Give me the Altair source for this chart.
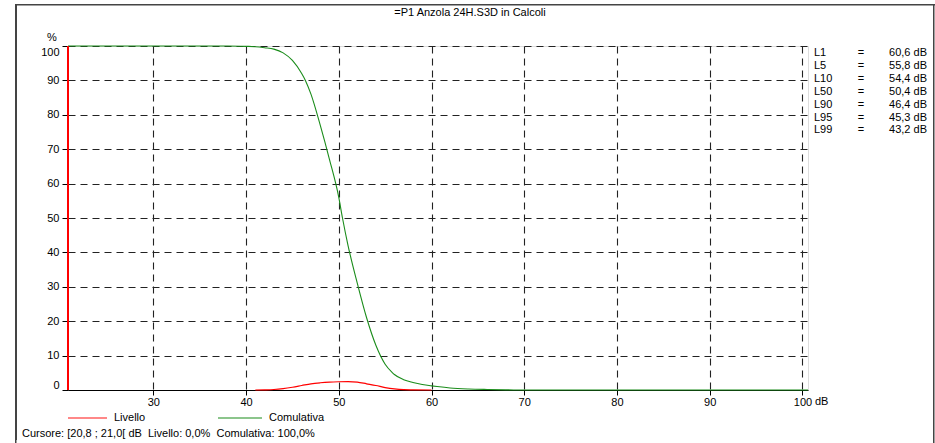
import altair as alt
import pandas as pd

# ---- data ----
title_text = "=P1 Anzola 24H.S3D in Calcoli"

cum_db = [20.8, 30, 38, 40, 41, 42, 43, 44, 45, 46, 46.4, 47, 48, 49, 50, 50.4, 51, 52, 53, 54,
          55, 55.8, 56, 57, 58, 59, 60, 60.6, 62, 64, 66, 68, 70, 100.6]
cum_pct = [100, 100, 100, 99.9, 99.8, 99.5, 99.1, 98, 95.8, 92, 90, 86, 77, 67, 56, 50, 42, 31, 21, 13,
           7.5, 5, 4.5, 3, 2.2, 1.6, 1.2, 1, 0.6, 0.3, 0.15, 0.05, 0, 0]

liv_db = [41, 42, 43, 44, 45, 46, 47, 48, 49, 50, 51, 52, 53, 54, 55, 56, 57, 58, 60]
liv_pct = [0, 0.05, 0.15, 0.4, 0.8, 1.3, 1.8, 2.1, 2.3, 2.4, 2.45, 2.3, 1.8, 1.3, 0.7, 0.3, 0.1, 0.05, 0]

stat_names = ["L1", "L5", "L10", "L50", "L90", "L95", "L99"]
stat_values = [60.6, 55.8, 54.4, 50.4, 46.4, 45.3, 43.2]

x_ticks = [30, 40, 50, 60, 70, 80, 90, 100]
y_ticks = [0, 10, 20, 30, 40, 50, 60, 70, 80, 90, 100]
x_domain = [20.8, 100.6]
y_domain = [0, 100]

cursor_lo, cursor_hi = 20.8, 21.0
cursor_liv, cursor_cum = 0.0, 100.0

legend_names = ["Livello", "Comulativa"]
RED = "#ff0000"
GREEN = "#1a8c1a"
FONT = "Liberation Sans"


def it(v, d=1):
    return f"{v:.{d}f}".replace(".", ",")


W, H = 740, 344

xs = alt.Scale(domain=x_domain, nice=False, zero=False)
ys = alt.Scale(domain=y_domain, nice=False)

cum_df = pd.DataFrame({"db": cum_db, "pct": cum_pct})
liv_df = pd.DataFrame({"db": liv_db, "pct": liv_pct})

x_axis = alt.Axis(values=x_ticks, grid=True, gridDash=[7, 5], gridColor="#222222", gridWidth=1.1,
                  tickSize=5, tickColor="#000000", labelPadding=1, domainColor="#000000",
                  labelFont=FONT, labelFontSize=11, labelColor="#000000", title=None,
                  labelOverlap=False)
y_axis = alt.Axis(values=y_ticks, grid=True, gridDash=[7, 5], gridColor="#222222", gridWidth=1.1,
                  tickSize=6, tickColor="#000000", labelPadding=3, labelFlush=True,
                  domain=False, labelFont=FONT, labelFontSize=11, labelColor="#000000", title=None,
                  labelOverlap=False)

X = alt.X("db:Q", scale=xs, axis=x_axis)
Y = alt.Y("pct:Q", scale=ys, axis=y_axis)

liv = alt.Chart(liv_df).mark_line(color=RED, strokeWidth=1.2, interpolate="monotone").encode(x=X, y=Y)
cum = alt.Chart(cum_df).mark_line(color=GREEN, strokeWidth=1.1, interpolate="monotone").encode(x=X, y=Y)

cursor = alt.Chart(pd.DataFrame({"db": [cursor_lo]})).mark_rule(color=RED, strokeWidth=2).encode(
    x=X, y=alt.value(0), y2=alt.value(H)
)


def txt(s, x, y, align="left", baseline="middle", **kw):
    return alt.Chart(pd.DataFrame({"t": [s]})).mark_text(
        align=align, baseline=baseline, font=FONT, fontSize=11, color="#000000", **kw
    ).encode(text="t:N", x=alt.value(x), y=alt.value(y))


def box(x1, x2, y1, y2, color):
    return alt.Chart(pd.DataFrame({"a": [0]})).mark_rect(color=color, opacity=1).encode(
        x=alt.value(x1), x2=alt.value(x2), y=alt.value(y1), y2=alt.value(y2))


def hrule(x1, x2, y, color, w):
    return alt.Chart(pd.DataFrame({"a": [0]})).mark_rule(color=color, strokeWidth=w).encode(
        x=alt.value(x1), x2=alt.value(x2), y=alt.value(y))


def vrule(x, y1, y2, color, w):
    return alt.Chart(pd.DataFrame({"a": [0]})).mark_rule(color=color, strokeWidth=w).encode(
        x=alt.value(x), y=alt.value(y1), y2=alt.value(y2))


FC = "#444444"
frame_top = box(15 - 68, 935 - 68, 4 - 46, 5.5 - 46, FC)
frame_left = box(15 - 68, 16.5 - 68, 4 - 46, 460 - 46, FC)
frame_left2 = vrule(16 - 68, 4 - 46, 440 - 46, FC, 2)
frame_right = box(933 - 68, 934.5 - 68, 4 - 46, 460 - 46, FC)

title = txt(title_text, 470 - 68, 13 - 46, align="center")
pct_lbl = txt("%", 52 - 68, 38 - 46, align="center")
db_lbl = txt("dB", 815 - 68, 401.5 - 46)

names_txt = txt("\n".join(stat_names), 814 - 68, 47 - 46, baseline="top", lineBreak="\n", lineHeight=12.9)
eq_txt = txt("\n".join(["="] * len(stat_names)), 861 - 68, 47 - 46, align="center", baseline="top",
             lineBreak="\n", lineHeight=12.9)
val_txt = txt("\n".join(f"{it(v)} dB" for v in stat_values), 927 - 68, 47 - 46, align="right",
              baseline="top", lineBreak="\n", lineHeight=12.9)

leg_red = hrule(68 - 68, 107 - 68, 418 - 46, "#ff6060", 1.5)
leg_green = hrule(218 - 68, 262 - 68, 418 - 46, GREEN, 1.1)
leg_t1 = txt(legend_names[0], 114 - 68, 418 - 46)
leg_t2 = txt(legend_names[1], 269 - 68, 418 - 46)

sp = "\u00a0\u00a0"
cursor_text = (f"Cursore: [{it(cursor_lo)} ; {it(cursor_hi)}[ dB{sp}Livello: {it(cursor_liv)}%"
               f"{sp}Comulativa: {it(cursor_cum)}%")
cur_txt = txt(cursor_text, 22 - 68, 434 - 46)

chart = alt.layer(
    frame_top, frame_left, frame_left2, frame_right, liv, cum, cursor, title, pct_lbl, db_lbl,
    names_txt, eq_txt, val_txt, leg_red, leg_green, leg_t1, leg_t2, cur_txt
).properties(
    width=W, height=H,
    padding={"left": 68, "top": 46, "right": 127, "bottom": 53},
    autosize=alt.AutoSizeParams(type="none"),
).configure_view(stroke="#000000", strokeWidth=1).configure(background="white")

chart.save("out.html", embed_options={"renderer": "svg", "actions": False})
